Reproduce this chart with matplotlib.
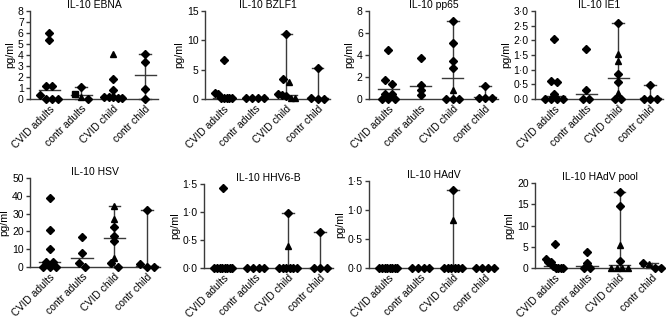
import numpy as np
import matplotlib.pyplot as plt

plt.rcParams['font.family'] = ['Liberation Sans', 'DejaVu Sans']

groups = ["CVID adults", "contr adults", "CVID child", "contr child"]

titles = ["IL-10 EBNA", "IL-10 BZLF1", "IL-10 pp65", "IL-10 IE1",
          "IL-10 HSV", "IL-10 HHV6-B", "IL-10 HAdV", "IL-10 HAdV pool"]

# values per group, order: CVID adults, contr adults, CVID child, contr child
ebna = [[6.0, 5.35, 1.2, 1.2, 0.4, 0, 0, 0],
        [1.1, 0.5, 0.2, 0],
        [4.05, 1.85, 0.8, 0.2, 0.15, 0.15, 0.1, 0.1],
        [4.05, 3.4, 0.9, 0]]
bzlf1 = [[6.65, 1.0, 0.8, 0.1, 0.1, 0.1, 0.1, 0.1],
         [0.1, 0.1, 0.2, 0.1],
         [11.0, 3.45, 2.9, 0.85, 0.6, 0.5, 0.1, 0.1],
         [5.2, 0.2, 0.0, 0.0]]
pp65 = [[4.45, 1.75, 1.35, 0.5, 0.5, 0, 0, 0],
        [3.7, 1.3, 0.8, 0.35],
        [7.1, 5.05, 3.5, 2.85, 0.85, 0, 0, 0],
        [1.2, 0.1, 0.1, 0.1]]
ie1 = [[2.05, 0.6, 0.57, 0.17, 0, 0, 0, 0],
       [1.7, 0.3, 0, 0],
       [2.6, 1.55, 1.3, 0.85, 0.57, 0.2, 0, 0],
       [0.47, 0, 0, 0]]
hsv = [[38.5, 20.8, 10.2, 2.8, 2.8, 0, 0, 0],
       [17.0, 7.7, 2.0, 0],
       [34.2, 27.0, 22.7, 17.6, 14.5, 5.0, 2.2, 0],
       [32.0, 1.8, 0, 0]]
hhv6 = [[1.42, 0, 0, 0, 0, 0, 0, 0, 0],
        [0, 0, 0, 0],
        [0.98, 0.4, 0, 0, 0, 0, 0, 0],
        [0.64, 0, 0, 0]]
hadv = [[0, 0, 0, 0, 0, 0, 0, 0],
        [0, 0, 0, 0],
        [1.35, 0.83, 0, 0, 0, 0, 0, 0],
        [0, 0, 0, 0]]
pool = [[5.7, 2.2, 1.3, 1.3, 0.5, 0, 0, 0, 0],
        [3.8, 1.1, 0, 0],
        [18.0, 14.6, 5.5, 1.7, 0, 0, 0, 0],
        [1.2, 0.9, 0, 0]]

# marker codes per point (D diamond, ^ triangle, s square)
ebna_mk = ["DDDDDDDD", "Ds^D", "^DDDDDDD", "DDDD"]
bzlf1_mk = ["DDDDDDDD", "DDDD", "DD^DDD^^", "DDDD"]
pp65_mk = ["DDDDDDDD", "DDDD", "DDDD^DDD", "DDDD"]
ie1_mk = ["DDDDDDDD", "DDDD", "D^^DD^DD", "DDDD"]
hsv_mk = ["DDDDDDDD", "DDDD", "^^DDD^DD", "DDDD"]
hhv6_mk = ["DDDDDDDDD", "DDDD", "D^DDDDDD", "DDDD"]
hadv_mk = ["DDDDDDDD", "DDDD", "D^DDDDDD", "DDDD"]
pool_mk = ["DDDDDDDDD", "DDDD", "DD^D^^^^", "D^DD"]

# medians
ebna_med = [0.8, 0.35, 0.27, 2.15]
bzlf1_med = [0.15, 0.1, 0.72, 0.1]
pp65_med = [0.9, 1.2, 1.95, 0.15]
ie1_med = [0.1, 0.17, 0.72, 0.02]
hsv_med = [2.8, 4.9, 16.2, 0.6]
hhv6_med = [0, 0, 0, 0]
hadv_med = [0, 0, 0, 0]
pool_med = [0.5, 0.55, 0.8, 0.4]

# groups drawn with a min-max range bar
ebna_rng = [False, True, False, True]
bzlf1_rng = [False, False, True, True]
pp65_rng = [False, False, True, True]
ie1_rng = [False, False, True, True]
hsv_rng = [False, False, True, True]
hhv6_rng = [False, False, True, True]
hadv_rng = [False, False, True, False]
pool_rng = [False, False, True, True]

# y ticks
ebna_ticks = [0, 1, 2, 3, 4, 5, 6, 7, 8]
bzlf1_ticks = [0, 5, 10, 15]
pp65_ticks = [0, 2, 4, 6, 8]
ie1_ticks = [0, 0.5, 1.0, 1.5, 2.0, 2.5, 3.0]
hsv_ticks = [0, 10, 20, 30, 40, 50]
hhv6_ticks = [0, 0.5, 1.0, 1.5]
hadv_ticks = [0, 0.5, 1.0, 1.5]
pool_ticks = [0, 5, 10, 15, 20]

ebna_lbl = ["0", "1", "2", "3", "4", "5", "6", "7", "8"]
bzlf1_lbl = ["0", "5", "10", "15"]
pp65_lbl = ["0", "2", "4", "6", "8"]
ie1_lbl = ["0·0", "0·5", "1·0", "1·5", "2·0", "2·5", "3·0"]
hsv_lbl = ["0", "10", "20", "30", "40", "50"]
hhv6_lbl = ["0·0", "0·5", "1·0", "1·5"]
hadv_lbl = ["0·0", "0·5", "1·0", "1·5"]
pool_lbl = ["0", "5", "10", "15", "20"]

panels = [
    (ebna, ebna_mk, ebna_med, ebna_rng, ebna_ticks, ebna_lbl),
    (bzlf1, bzlf1_mk, bzlf1_med, bzlf1_rng, bzlf1_ticks, bzlf1_lbl),
    (pp65, pp65_mk, pp65_med, pp65_rng, pp65_ticks, pp65_lbl),
    (ie1, ie1_mk, ie1_med, ie1_rng, ie1_ticks, ie1_lbl),
    (hsv, hsv_mk, hsv_med, hsv_rng, hsv_ticks, hsv_lbl),
    (hhv6, hhv6_mk, hhv6_med, hhv6_rng, hhv6_ticks, hhv6_lbl),
    (hadv, hadv_mk, hadv_med, hadv_rng, hadv_ticks, hadv_lbl),
    (pool, pool_mk, pool_med, pool_rng, pool_ticks, pool_lbl),
]

# axes boxes in pixels: left, top, right, bottom
boxes = [(30, 11, 158, 99), (205, 11, 330, 99), (369, 11, 498, 99), (535, 11, 663, 99),
         (30, 178, 160, 267), (204, 184, 333, 268), (369, 181, 498, 268), (535, 183, 665, 268)]

W, H = 666, 320
fig = plt.figure(figsize=(W / 100, H / 100), dpi=100)

line_col = '#3a3a3a'


def spread(vals, px_per_unit):
    # simple swarm: points closer than a marker get spread sideways
    order = np.argsort(vals)[::-1]
    xs = np.zeros(len(vals))
    clusters = []
    for i in order:
        if clusters and abs(vals[clusters[-1][-1]] - vals[i]) * px_per_unit < 4.5:
            clusters[-1].append(i)
        else:
            clusters.append([i])
    for c in clusters:
        n = len(c)
        if n == 1:
            continue
        width = min((n - 1) * 0.2, 0.55)
        offs = np.linspace(-width / 2, width / 2, n)
        for j, idx in enumerate(c):
            xs[idx] = offs[j]
    return xs


for k, (vals, mks, meds, rngs, ticks, lbls) in enumerate(panels):
    x0, y0, x1, y1 = boxes[k]
    ax = fig.add_axes([x0 / W, 1 - y1 / H, (x1 - x0) / W, (y1 - y0) / H])
    ymax = ticks[-1]
    ppu = (y1 - y0) / ymax
    for g in range(4):
        v = np.array(vals[g], dtype=float)
        if rngs[g]:
            ax.plot([g, g], [v.min(), v.max()], color=line_col, lw=1, clip_on=False, zorder=2)
            for yy in (v.min(), v.max()):
                ax.plot([g - 0.18, g + 0.18], [yy, yy], color=line_col, lw=1, clip_on=False, zorder=2)
        ax.plot([g - 0.33, g + 0.33], [meds[g], meds[g]], color=line_col, lw=1, clip_on=False, zorder=2)
        xo = spread(v, ppu)
        for xi, yi, m in zip(xo, v, mks[g]):
            ax.plot(g + xi, yi, marker=m, color='black', ms=3.8 if m == 'D' else 4.2,
                    ls='none', clip_on=False, zorder=3)
    ax.set_xlim(-0.6, 3.4)
    ax.set_ylim(0, ymax)
    ax.set_yticks(ticks)
    ax.set_yticklabels(lbls, fontsize=7.5)
    ax.set_xticks(range(4))
    ax.set_xticklabels(groups, rotation=45, ha='right', rotation_mode='anchor', fontsize=7.5)
    ax.tick_params(axis='x', length=0, pad=3.5)
    ax.tick_params(axis='y', length=3, width=1, color=line_col, pad=1.5)
    for s in ('top', 'right'):
        ax.spines[s].set_visible(False)
    for s in ('left', 'bottom'):
        ax.spines[s].set_color(line_col)
        ax.spines[s].set_linewidth(1)
    ax.set_ylabel("pg/ml", fontsize=7.8, labelpad=2)
    ax.set_title(titles[k], fontsize=7.5, pad=2)

fig.savefig("out.png", dpi=100)
